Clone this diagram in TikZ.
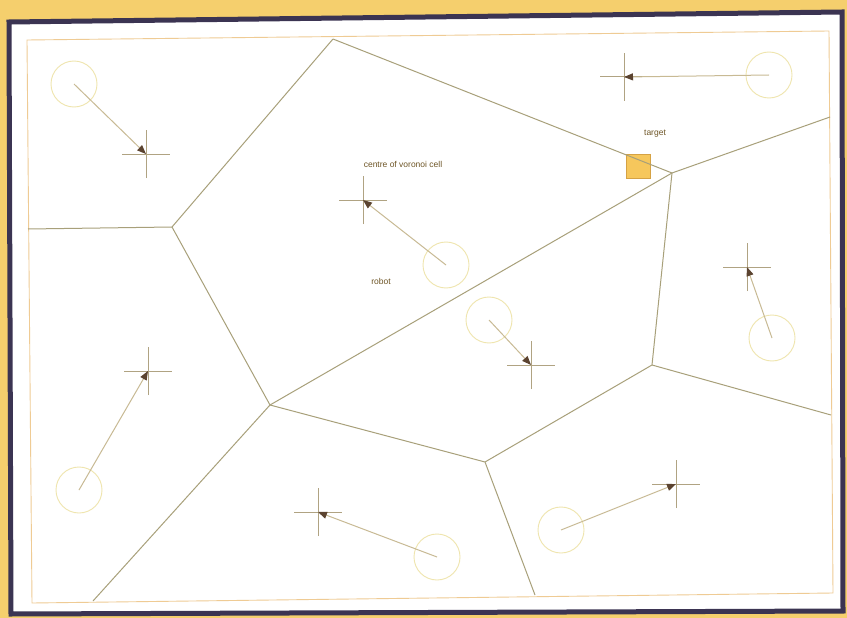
\documentclass[tikz,border=0pt]{standalone}
\usepackage{fontspec}
\setmainfont{Liberation Sans}
\usetikzlibrary{arrows.meta}
\definecolor{bgorange}{HTML}{F5CF6D}
\definecolor{framecol}{HTML}{3B3452}
\definecolor{innerline}{HTML}{EFCB94}
\definecolor{vorline}{HTML}{A8A07A}
\definecolor{robotcol}{HTML}{EFE5AE}
\definecolor{arrowcol}{HTML}{C8BA94}
\definecolor{headcol}{HTML}{5B4330}
\definecolor{crosscol}{HTML}{B0A382}
\definecolor{sqfill}{HTML}{F6C75C}
\definecolor{sqdraw}{HTML}{D5A244}
\definecolor{txtcol}{HTML}{6E5526}
\tikzset{
  vedge/.style={draw=vorline, line width=1pt},
  robot/.style={circle, draw=robotcol, line width=0.9pt, minimum size=46pt, inner sep=0pt},
  move/.style={draw=arrowcol, line width=1pt, -{Triangle[length=9pt,width=7pt,fill=headcol,color=headcol]}},
  crossline/.style={draw=crosscol, line width=1pt},
  lbl/.style={font=\fontsize{8.5}{9}\selectfont, text=txtcol, inner sep=0pt},
}
\newcommand{\mycross}[1]{\draw[crossline] ([xshift=-24pt]#1) -- ([xshift=24pt]#1);
  \draw[crossline] ([yshift=-24pt]#1) -- ([yshift=24pt]#1);}
\begin{document}
\begin{tikzpicture}[x=1pt,y=-1pt]
\useasboundingbox (0,0) rectangle (847,618);
\fill[bgorange] (0,0) rectangle (847,618);
% outer frame
\draw[framecol, line width=5pt, fill=white] (9,22) -- (842,12) -- (843,611) -- (11,614) -- cycle;
% inner rectangle
\draw[innerline, line width=0.9pt] (27,40) -- (829,31) -- (833,593) -- (32,603) -- cycle;

% target (under the cell edge)
\node[draw=sqdraw, fill=sqfill, line width=0.9pt, minimum size=24pt, inner sep=0pt] (target) at (638,166) {};
\node[lbl] (tlabel) at (655,134) {target};

% voronoi vertices
\coordinate (A) at (333,39);
\coordinate (B) at (172,227);
\coordinate (C) at (28,229);
\coordinate (D) at (270,405);
\coordinate (E) at (672,173);
\coordinate (F) at (830,117);
\coordinate (G) at (652,365);
\coordinate (H) at (831,415);
\coordinate (I) at (485,462);
\coordinate (J) at (93,601);
\coordinate (K) at (535,595);

\draw[vedge] (A) -- (B);
\draw[vedge] (B) -- (C);
\draw[vedge] (B) -- (D);
\draw[vedge] (A) -- (E);
\draw[vedge] (E) -- (F);
\draw[vedge] (D) -- (E);
\draw[vedge] (E) -- (G);
\draw[vedge] (G) -- (H);
\draw[vedge] (G) -- (I);
\draw[vedge] (I) -- (D);
\draw[vedge] (I) -- (K);
\draw[vedge] (D) -- (J);

% labels
\node[lbl] (clabel) at (403,164) {centre of voronoi cell};
\node[lbl] (rlabel) at (381,281) {robot};

% cell centres
\coordinate (c1) at (146,154);
\coordinate (c2) at (624,77);
\coordinate (c3) at (363,200);
\coordinate (c4) at (531,365);
\coordinate (c5) at (747,267);
\coordinate (c6) at (148,371);
\coordinate (c7) at (318,512);
\coordinate (c8) at (676,484);

% robots
\node[robot] (r1) at (74,84) {};
\node[robot] (r2) at (769,75) {};
\node[robot] (r3) at (446,265) {};
\node[robot] (r4) at (489,320) {};
\node[robot] (r5) at (772,338) {};
\node[robot] (r6) at (79,490) {};
\node[robot] (r7) at (437,557) {};
\node[robot] (r8) at (561,530) {};

\mycross{c1}
\mycross{c2}
\mycross{c3}
\mycross{c4}
\mycross{c5}
\mycross{c6}
\mycross{c7}
\mycross{c8}

\draw[move] (r1.center) -- (c1);
\draw[move] (r2.center) -- (c2);
\draw[move] (r3.center) -- (c3);
\draw[move] (r4.center) -- (c4);
\draw[move] (r5.center) -- (c5);
\draw[move] (r6.center) -- (c6);
\draw[move] (r7.center) -- (c7);
\draw[move] (r8.center) -- (c8);
\end{tikzpicture}
\end{document}
